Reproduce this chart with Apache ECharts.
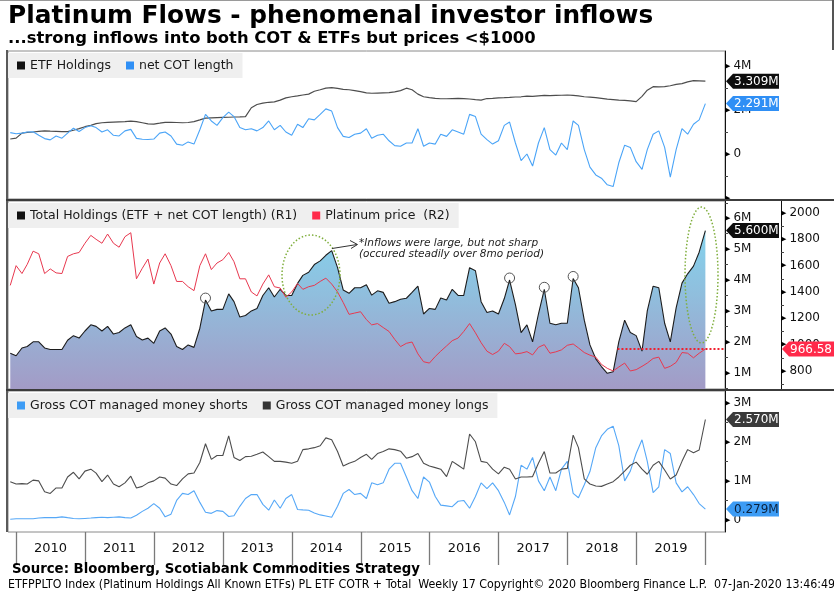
<!DOCTYPE html>
<html>
<head>
<meta charset="utf-8">
<title>Platinum Flows</title>
<script src="https://cdn.jsdelivr.net/npm/echarts@6.0.0/dist/echarts.min.js"></script>
<style>
  html, body { margin: 0; padding: 0; background: #fff; }
  #chart { width: 834px; height: 591px; }
</style>
</head>
<body>
<div id="chart"></div>
<script>
// monthly readings: Dec 2009, then Jan..Dec for 2010-2019, then the 03-Jan-2020 print
const etfHoldings = [
  0.68,
  0.72, 0.95, 0.98, 1.00, 1.03, 1.05, 1.04, 1.03, 1.02, 1.02, 1.08, 1.15,
  1.24, 1.30, 1.38, 1.42, 1.44, 1.45, 1.46, 1.47, 1.49, 1.47, 1.42, 1.37,
  1.36, 1.40, 1.44, 1.44, 1.43, 1.42, 1.43, 1.47, 1.55, 1.63, 1.64, 1.65,
  1.66, 1.67, 1.68, 1.69, 1.70, 2.10, 2.25, 2.31, 2.35, 2.37, 2.45, 2.55,
  2.60, 2.64, 2.68, 2.72, 2.85, 2.92, 2.99, 3.02, 2.98, 2.94, 2.92, 2.88,
  2.83, 2.78, 2.76, 2.77, 2.78, 2.79, 2.82, 2.88, 2.99, 2.92, 2.72, 2.60,
  2.56, 2.53, 2.51, 2.51, 2.52, 2.53, 2.52, 2.50, 2.47, 2.45, 2.52, 2.53,
  2.55, 2.56, 2.57, 2.59, 2.60, 2.63, 2.62, 2.64, 2.66, 2.65, 2.66, 2.67,
  2.68, 2.66, 2.64, 2.60, 2.58, 2.56, 2.53, 2.49, 2.47, 2.45, 2.44, 2.41,
  2.38, 2.62, 2.90, 3.06, 3.05, 3.06, 3.10, 3.16, 3.20, 3.28, 3.33, 3.32,
  3.309
];

const netCotLength = [
  0.97,
  0.92, 0.95, 1.00, 1.01, 0.85, 0.70, 0.64, 0.82, 0.72, 0.95, 1.17, 1.02,
  1.20, 1.28, 1.20, 1.00, 1.10, 0.85, 0.82, 1.05, 1.12, 0.71, 0.67, 0.66,
  0.68, 0.95, 1.00, 0.82, 0.45, 0.40, 0.55, 0.45, 1.10, 1.80, 1.50, 1.30,
  1.65, 1.90, 1.70, 1.20, 1.10, 1.15, 1.05, 1.20, 1.50, 1.10, 1.30, 1.00,
  0.85, 1.35, 1.20, 1.60, 1.55, 1.80, 2.05, 1.95, 1.20, 0.80, 0.75, 0.90,
  0.95, 1.15, 0.72, 0.85, 0.90, 0.60, 0.38, 0.35, 0.50, 0.50, 1.15, 0.35,
  0.50, 0.45, 0.90, 0.80, 1.10, 1.00, 0.90, 1.80, 1.70, 0.90, 0.65, 0.45,
  0.60, 1.30, 1.45, 0.50, -0.30, 0.00, -0.55, 0.50, 1.20, 0.20, -0.05, 0.50,
  0.20, 1.50, 1.30, 0.20, -0.60, -0.95, -1.10, -1.40, -1.48, -0.40, 0.40, 0.30,
  -0.35, -0.70, 0.20, 0.90, 1.05, 0.30, -1.05, 0.20, 1.15, 0.90, 1.35, 1.55,
  2.291
];

const totalHoldings = [
  1.63,
  1.55, 1.80, 1.85, 2.00, 2.00, 1.80, 1.75, 1.75, 1.75, 2.05, 2.20, 2.12,
  2.35, 2.55, 2.50, 2.35, 2.50, 2.25, 2.30, 2.45, 2.55, 2.17, 2.06, 2.12,
  1.95, 2.35, 2.45, 2.25, 1.85, 1.75, 1.90, 1.82, 2.44, 3.35, 3.00, 3.05,
  3.05, 3.55, 3.30, 2.80, 2.85, 3.00, 3.08, 3.50, 3.75, 3.45, 3.70, 3.50,
  3.50, 3.89, 4.15, 4.25, 4.50, 4.62, 4.80, 4.95, 4.40, 3.68, 3.57, 3.75,
  3.75, 3.85, 3.51, 3.65, 3.60, 3.25, 3.30, 3.38, 3.41, 3.60, 3.80, 2.90,
  3.08, 3.05, 3.42, 3.35, 3.70, 3.50, 3.50, 4.40, 4.30, 3.30, 2.95, 3.00,
  2.90, 3.40, 4.00, 3.20, 2.30, 2.55, 2.00, 2.90, 3.70, 2.60, 2.55, 2.60,
  2.60, 4.05, 3.75, 2.70, 1.90, 1.45, 1.20, 0.98, 1.03, 2.00, 2.70, 2.30,
  2.20, 1.70, 3.00, 3.80, 3.75, 2.60, 2.00, 3.10, 3.90, 4.20, 4.45, 4.90,
  5.600
];

const platinumPrice = [
  1450,
  1600, 1540, 1610, 1710, 1690, 1540, 1575, 1545, 1540, 1670, 1690, 1700,
  1770, 1830, 1800, 1770, 1840, 1770, 1740, 1820, 1850, 1500, 1580, 1650,
  1460, 1620, 1690, 1600, 1480, 1480, 1440, 1410, 1600, 1690, 1570, 1620,
  1645, 1700, 1630, 1500, 1500, 1400, 1370, 1460, 1530, 1440, 1430, 1360,
  1400, 1465, 1420, 1440, 1450, 1480, 1505, 1460, 1400, 1320, 1230, 1240,
  1250, 1190, 1150, 1160, 1130, 1100, 1040, 985, 1010, 1020, 930, 870,
  860, 910, 950, 990, 1030, 1050, 1100, 1160, 1090, 1015, 950, 925,
  950, 1010, 985, 930, 935, 947, 922, 980, 1000, 935, 945, 960,
  995, 1005, 975, 940, 920, 905, 850, 820, 800, 830, 860, 800,
  810, 835, 860, 895, 905, 820, 835, 865, 940, 935, 900, 935,
  966.58
];

const grossShorts = [
  0.02,
  0.03, 0.03, 0.03, 0.03, 0.05, 0.06, 0.06, 0.06, 0.08, 0.06, 0.04, 0.03,
  0.04, 0.05, 0.06, 0.07, 0.06, 0.07, 0.08, 0.06, 0.05, 0.12, 0.22, 0.30,
  0.42, 0.30, 0.08, 0.15, 0.50, 0.68, 0.65, 0.75, 0.45, 0.20, 0.17, 0.24,
  0.22, 0.09, 0.11, 0.35, 0.55, 0.65, 0.65, 0.40, 0.25, 0.51, 0.30, 0.55,
  0.65, 0.27, 0.26, 0.25, 0.18, 0.13, 0.10, 0.07, 0.35, 0.68, 0.78, 0.65,
  0.68, 0.55, 0.95, 0.90, 0.95, 1.30, 1.45, 1.45, 1.10, 0.75, 0.55, 1.10,
  0.97, 0.60, 0.38, 0.36, 0.34, 0.48, 0.50, 0.30, 0.60, 0.95, 0.80, 0.95,
  0.75, 0.45, 0.13, 0.60, 1.40, 1.30, 1.60, 1.00, 0.75, 1.10, 0.75, 1.30,
  1.50, 0.68, 0.57, 0.90, 1.24, 1.85, 2.15, 2.32, 2.40, 1.90, 1.00, 1.25,
  1.70, 2.05, 1.50, 0.70, 0.85, 1.80, 1.70, 0.95, 0.72, 0.85, 0.65, 0.42,
  0.279
];

const grossLongs = [
  0.98,
  0.92, 0.93, 0.92, 1.02, 1.00, 0.72, 0.68, 0.82, 0.82, 1.10, 1.22, 1.05,
  1.25, 1.30, 1.20, 0.98, 1.15, 0.92, 0.85, 0.95, 1.12, 0.82, 0.86, 0.95,
  1.00, 1.10, 1.07, 0.92, 0.88, 1.05, 1.18, 1.20, 1.47, 1.95, 1.55, 1.65,
  1.65, 2.15, 1.60, 1.52, 1.62, 1.63, 1.68, 1.74, 1.62, 1.50, 1.50, 1.48,
  1.45, 1.50, 1.80, 1.82, 1.85, 1.90, 2.10, 2.05, 1.75, 1.38, 1.45, 1.50,
  1.60, 1.68, 1.55, 1.70, 1.75, 1.82, 1.80, 1.76, 1.58, 1.62, 1.70, 1.45,
  1.38, 1.34, 1.30, 1.11, 1.50, 1.40, 1.30, 2.20, 2.00, 1.50, 1.47, 1.30,
  1.18, 1.35, 1.30, 1.05, 1.10, 1.10, 1.11, 1.45, 1.75, 1.20, 1.20, 1.30,
  1.32, 2.17, 1.85, 1.05, 0.92, 0.87, 0.86, 0.92, 0.98, 1.10, 1.25, 1.40,
  1.48, 1.30, 1.17, 1.40, 1.50, 1.28, 1.05, 1.15, 1.50, 1.80, 1.72, 1.79,
  2.570
];

const yearLabels = ['2010', '2011', '2012', '2013', '2014', '2015', '2016', '2017', '2018', '2019'];

// peaks circled on the total holdings panel (index into the arrays above)
const circledPeaks = [34, 87, 93, 98];

const FONT = 'DejaVu Sans';
const X_MIN = '2009-11-19';
const X_MAX = '2020-04-16';

const dates = ['2009-12-01'];
for (let y = 2010; y <= 2019; y++) {
  for (let m = 1; m <= 12; m++) dates.push(y + '-' + String(m).padStart(2, '0') + '-01');
}
dates.push('2020-01-03');

const pairs = arr => arr.map((v, i) => [dates[i], v]);
const last = arr => arr[arr.length - 1];
const isStep = (v, step) => Math.abs(v / step - Math.round(v / step)) < 1e-6;

const chart = echarts.init(document.getElementById('chart'));

const timeAxis = grid => ({ type: 'time', gridIndex: grid, min: X_MIN, max: X_MAX, show: false });

const rightAxis = (grid, min, max, split, fmt, extra) => Object.assign({
  type: 'value', gridIndex: grid, position: 'right', min, max, splitNumber: split,
  splitLine: { show: false },
  axisLine: { show: true, lineStyle: { color: '#111', width: 1 } },
  axisTick: { show: false },
  minorTick: { show: true, splitNumber: 2, length: 3, lineStyle: { color: '#444' } },
  axisLabel: {
    margin: 0, color: '#111', fontFamily: FONT, fontSize: 12, formatter: fmt,
    rich: { t: { fontSize: 7, color: '#000', padding: [0, 3, 0, 0] } }
  }
}, extra || {});

const mLabel = step => v => {
  if (!isStep(v, step)) return '';
  const n = Math.round(v);
  return '{t|▶}' + (n === 0 ? '0' : n + 'M');
};

const legendBox = (top, names, colors) => ({
  left: 8, top, selectedMode: false, icon: 'rect',
  backgroundColor: '#efefef', padding: [6, 9, 6, 9], itemGap: 15,
  itemWidth: 8, itemHeight: 8,
  textStyle: { fontFamily: FONT, fontSize: 12.5, color: '#1a1a1a' },
  data: names.map((n, i) => ({ name: n, itemStyle: { color: colors[i] } }))
});

const lineSeries = (name, data, xi, yi, color, width) => ({
  name, type: 'line', xAxisIndex: xi, yAxisIndex: yi, data: pairs(data),
  symbol: 'none', lineStyle: { color, width: width || 1.1 }, itemStyle: { color }
});

const totalSeries = lineSeries('Total Holdings (ETF + net COT length) (R1)', totalHoldings, 1, 1, '#1c1c1c', 1.1);
totalSeries.areaStyle = {
  origin: 'start', opacity: 1,
  color: new echarts.graphic.LinearGradient(0, 201, 0, 389, [
    { offset: 0, color: '#7fdcf4' },
    { offset: 0.5, color: '#90bedd' },
    { offset: 1, color: '#a39bc6' }
  ], true)
};
totalSeries.markPoint = {
  symbol: 'circle', symbolSize: 10, symbolOffset: [0, -2], silent: true,
  itemStyle: { color: 'rgba(0,0,0,0)', borderColor: '#555', borderWidth: 1 },
  label: { show: false },
  data: circledPeaks.map(i => ({ coord: [dates[i], totalHoldings[i]] }))
};

const priceSeries = lineSeries('Platinum price  (R2)', platinumPrice, 1, 2, '#e8384f', 1);
priceSeries.markLine = {
  symbol: ['none', 'none'], silent: true, label: { show: false },
  lineStyle: { color: '#f0202f', type: [2, 2], width: 2 },
  data: [[{ coord: ['2018-09-24', last(platinumPrice)] }, { coord: [X_MAX, last(platinumPrice)] }]]
};

chart.setOption({
  animation: false,
  backgroundColor: '#fff',
  grid: [
    { left: 8, top: 51, width: 717, height: 148, show: true, borderColor: '#8a8a8a', borderWidth: 1 },
    { left: 8, top: 201, width: 717, height: 188, show: true, borderColor: '#8a8a8a', borderWidth: 1 },
    { left: 8, top: 391, width: 717, height: 141, show: true, borderColor: '#8a8a8a', borderWidth: 1 },
    { left: 16, top: 532, width: 689.5, height: 33 }
  ],
  xAxis: [
    timeAxis(0), timeAxis(1), timeAxis(2),
    {
      type: 'category', gridIndex: 3, data: yearLabels, position: 'bottom', boundaryGap: true,
      axisLine: { show: false },
      axisTick: { show: true, inside: true, length: 33, interval: 0, lineStyle: { color: '#7a7a7a', width: 1.3 } },
      axisLabel: { inside: true, margin: 10, interval: 0, color: '#111', fontFamily: FONT, fontSize: 13 }
    }
  ],
  yAxis: [
    rightAxis(0, -2.045, 4.68, 3, v => {
      if (!isStep(v, 2)) return '';
      if (Math.round(v) === -2) return '{t|▶}';
      return mLabel(2)(v);
    }),
    rightAxis(1, 0.473, 6.557, 6, mLabel(1)),
    rightAxis(1, 663, 2091, 7, v => isStep(v, 200) ? '{t|▶}' + Math.round(v) : '', { offset: 56 }),
    rightAxis(2, -0.307, 3.299, 4, mLabel(1)),
    { type: 'value', gridIndex: 3, show: false }
  ],
  legend: [
    legendBox(53, ['ETF Holdings', 'net COT length'], ['#111', '#2f8ff5']),
    legendBox(203, ['Total Holdings (ETF + net COT length) (R1)', 'Platinum price  (R2)'], ['#111', '#ff2a4a']),
    legendBox(393, ['Gross COT managed money shorts', 'Gross COT managed money longs'], ['#3d9cf5', '#333'])
  ],
  series: [
    lineSeries('ETF Holdings', etfHoldings, 0, 0, '#4d4d4d', 1.2),
    lineSeries('net COT length', netCotLength, 0, 0, '#4aa4f7', 1.1),
    totalSeries,
    priceSeries,
    lineSeries('Gross COT managed money shorts', grossShorts, 2, 3, '#56a8f7', 1.1),
    lineSeries('Gross COT managed money longs', grossLongs, 2, 3, '#4d4d4d', 1.1)
  ]
});

// last-value tags on the right axes
const tags = [
  { axis: 0, x: 725, w: 54, value: last(etfHoldings), text: last(etfHoldings).toFixed(3) + 'M', bg: '#0d0d0d', fg: '#fff' },
  { axis: 0, x: 725, w: 54, value: last(netCotLength), text: last(netCotLength).toFixed(3) + 'M', bg: '#2f8ff5', fg: '#fff' },
  { axis: 1, x: 725, w: 54, value: last(totalHoldings), text: last(totalHoldings).toFixed(3) + 'M', bg: '#0d0d0d', fg: '#fff' },
  { axis: 2, x: 781, w: 54, value: last(platinumPrice), text: last(platinumPrice).toFixed(2), bg: '#ff2a4a', fg: '#fff' },
  { axis: 3, x: 725, w: 54, value: last(grossLongs), text: last(grossLongs).toFixed(3) + 'M', bg: '#3b3b3b', fg: '#fff' },
  { axis: 3, x: 725, w: 54, value: last(grossShorts), text: last(grossShorts).toFixed(3) + 'M', bg: '#3d9cf5', fg: '#0b2340' }
];

const ellipse = (cx, cy, rx, ry) => {
  const pts = [];
  for (let k = 0; k < 72; k++) {
    const a = k / 72 * Math.PI * 2;
    pts.push([cx + rx * Math.cos(a), cy + ry * Math.sin(a)]);
  }
  return pts;
};

const txt = (x, y, text, font, fill) => ({
  type: 'text', x, y, z: 120,
  style: { text, font, fill: fill || '#000', verticalAlign: 'middle', align: 'left' }
});

const g = [];
// frame and panel separators
g.push({ type: 'rect', z: 110, shape: { x: 0, y: 0, width: 834, height: 1 }, style: { fill: '#9a9a9a' } });
g.push({ type: 'rect', z: 110, shape: { x: 832, y: 0, width: 2, height: 50 }, style: { fill: '#555' } });
g.push({ type: 'rect', z: 110, shape: { x: 6, y: 50, width: 2, height: 482 }, style: { fill: '#5a5a5a' } });
g.push({ type: 'rect', z: 110, shape: { x: 6, y: 199, width: 828, height: 2 }, style: { fill: '#3c3c3c' } });
g.push({ type: 'rect', z: 110, shape: { x: 6, y: 389, width: 828, height: 2 }, style: { fill: '#3c3c3c' } });

tags.forEach(t => {
  const y = chart.convertToPixel({ yAxisIndex: t.axis }, t.value);
  g.push({
    type: 'polygon', z: 115,
    shape: { points: [[t.x + 1, y], [t.x + 8, y - 7.5], [t.x + t.w, y - 7.5], [t.x + t.w, y + 7.5], [t.x + 8, y + 7.5]] },
    style: { fill: t.bg }
  });
  g.push(txt(t.x + 9, y + 0.5, t.text, '12px "DejaVu Sans"', t.fg));
});

// annotations on the total holdings panel
g.push({ type: 'polygon', z: 105, shape: { points: ellipse(311, 275, 29, 40) }, style: { fill: 'none', stroke: '#7fae3c', lineWidth: 1.5, lineDash: [1.5, 2] } });
g.push({ type: 'polygon', z: 105, shape: { points: ellipse(701.5, 275, 16.5, 68) }, style: { fill: 'none', stroke: '#7fae3c', lineWidth: 1.5, lineDash: [1.5, 2] } });
g.push({ type: 'line', z: 105, shape: { x1: 332, y1: 248.5, x2: 357, y2: 244.5 }, style: { stroke: '#333', lineWidth: 1 } });
g.push({ type: 'polyline', z: 105, shape: { points: [[350, 240.5], [357.5, 244.5], [351, 248.5]] }, style: { stroke: '#333', lineWidth: 1, fill: 'none' } });
g.push(txt(359, 243, '*Inflows were large, but not sharp', 'italic 10.5px "DejaVu Sans"', '#222'));
g.push(txt(359, 254, '(occured steadily over 8mo period)', 'italic 10.5px "DejaVu Sans"', '#222'));

// titles and footers
g.push(txt(8, 17, 'Platinum Flows - phenomenal investor inflows', 'bold 24.8px "DejaVu Sans"'));
g.push(txt(8, 39, '...strong inflows into both COT & ETFs but prices <$1000', 'bold 16.4px "DejaVu Sans"'));
g.push(txt(12, 570, 'Source: Bloomberg, Scotiabank Commodities Strategy', 'bold 13.3px "DejaVu Sans"'));
g.push(txt(8, 585, 'ETFPPLTO Index (Platinum Holdings All Known ETFs) PL ETF COTR + Total  Weekly 17 Copyright\u00a9 2020 Bloomberg Finance L.P.  07-Jan-2020 13:46:49', '12.3px "DejaVu Sans Condensed"'));

chart.setOption({ graphic: g });
</script>
</body>
</html>
